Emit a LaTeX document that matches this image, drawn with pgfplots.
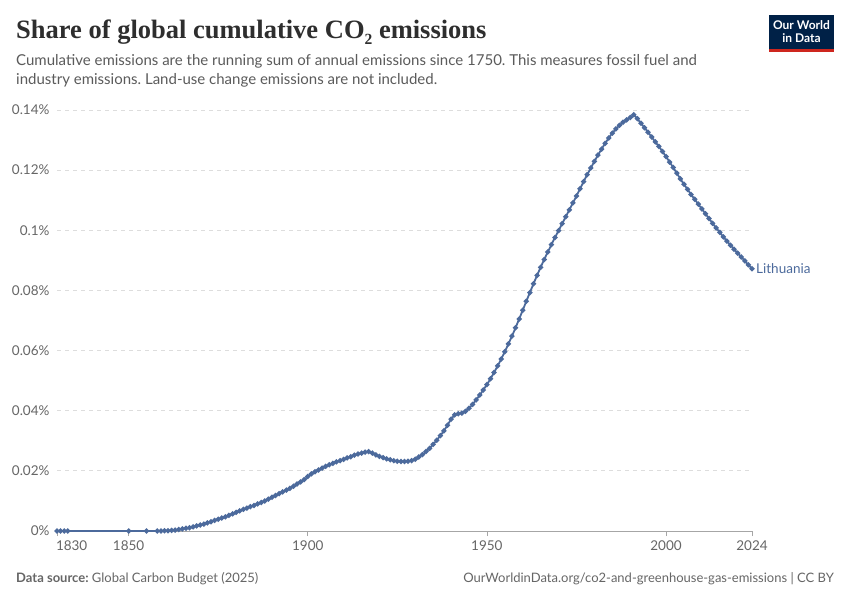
\documentclass[border=0pt]{standalone}
\usepackage{fontspec}
\setmainfont{Lato}
\newfontfamily\titlefont{Liberation Serif}
\usepackage{pgfplots}
\pgfplotsset{compat=1.18}
\frenchspacing
\definecolor{owid}{HTML}{4C6A9C}
\definecolor{txtgray}{HTML}{5B5B5B}
\definecolor{tickgray}{HTML}{666666}
\definecolor{gridgray}{HTML}{DDDDDD}
\definecolor{logoblue}{HTML}{002147}
\definecolor{logored}{HTML}{CE261E}
\pgfplotstableread{
year val
1830 0
1831 0
1832 0
1833 0
1850 0
1855 0
1858 0.0000
1859 0.0000
1860 0.0001
1861 0.0001
1862 0.0002
1863 0.0003
1864 0.0005
1865 0.0007
1866 0.0009
1867 0.0011
1868 0.0014
1869 0.0017
1870 0.0020
1871 0.0023
1872 0.0027
1873 0.0031
1874 0.0035
1875 0.0039
1876 0.0043
1877 0.0047
1878 0.0052
1879 0.0057
1880 0.0062
1881 0.0067
1882 0.0072
1883 0.0076
1884 0.0081
1885 0.0085
1886 0.0090
1887 0.0095
1888 0.0100
1889 0.0106
1890 0.0112
1891 0.0118
1892 0.0124
1893 0.0130
1894 0.0136
1895 0.0142
1896 0.0149
1897 0.0156
1898 0.0163
1899 0.0171
1900 0.0181
1901 0.0190
1902 0.0197
1903 0.0203
1904 0.0209
1905 0.0215
1906 0.0220
1907 0.0225
1908 0.0230
1909 0.0234
1910 0.0238
1911 0.0243
1912 0.0247
1913 0.0252
1914 0.0256
1915 0.0259
1916 0.0262
1917 0.0264
1918 0.0259
1919 0.0253
1920 0.0248
1921 0.0244
1922 0.0240
1923 0.0237
1924 0.0234
1925 0.0232
1926 0.0231
1927 0.0231
1928 0.0232
1929 0.0234
1930 0.0239
1931 0.0246
1932 0.0254
1933 0.0264
1934 0.0275
1935 0.0288
1936 0.0302
1937 0.0317
1938 0.0333
1939 0.0352
1940 0.0372
1941 0.0386
1942 0.0390
1943 0.0392
1944 0.0398
1945 0.0408
1946 0.0421
1947 0.0436
1948 0.0452
1949 0.0469
1950 0.0487
1951 0.0506
1952 0.0527
1953 0.0549
1954 0.0572
1955 0.0596
1956 0.0622
1957 0.0648
1958 0.0676
1959 0.0705
1960 0.0734
1961 0.0764
1962 0.0793
1963 0.0822
1964 0.0850
1965 0.0877
1966 0.0903
1967 0.0928
1968 0.0952
1969 0.0976
1970 0.0999
1971 0.1022
1972 0.1045
1973 0.1068
1974 0.1091
1975 0.1114
1976 0.1138
1977 0.1162
1978 0.1185
1979 0.1207
1980 0.1229
1981 0.1250
1982 0.1270
1983 0.1289
1984 0.1307
1985 0.1323
1986 0.1337
1987 0.1349
1988 0.1359
1989 0.1367
1990 0.1375
1991 0.1384
1992 0.1371
1993 0.1356
1994 0.1341
1995 0.1326
1996 0.1310
1997 0.1294
1998 0.1279
1999 0.1262
2000 0.1245
2001 0.1227
2002 0.1209
2003 0.1190
2004 0.1171
2005 0.1153
2006 0.1136
2007 0.1119
2008 0.1103
2009 0.1087
2010 0.1071
2011 0.1055
2012 0.1039
2013 0.1023
2014 0.1008
2015 0.0993
2016 0.0978
2017 0.0964
2018 0.0950
2019 0.0937
2020 0.0924
2021 0.0911
2022 0.0898
2023 0.0885
2024 0.0872
}\lithuania
\begin{document}
\begin{tikzpicture}[x=1pt,y=1pt]
\path[fill=white] (0,0) rectangle (850,600);
% title
\node[anchor=base west, inner sep=0pt, text=black!82, font=\titlefont\bfseries\fontsize{26.5}{26.5}\selectfont] at (16,561)
  {Share of global cumulative CO\raisebox{-0.2em}{\fontsize{15.5}{15.5}\selectfont 2} emissions};
\node[anchor=base west, inner sep=0pt, text=txtgray, font=\fontsize{15}{15}\selectfont] at (16,534)
  {Cumulative emissions are the running sum of annual emissions since 1750. This measures fossil fuel and};
\node[anchor=base west, inner sep=0pt, text=txtgray, font=\fontsize{15}{15}\selectfont] at (16,515)
  {industry emissions. Land-use change emissions are not included.};
% logo
\fill[logoblue] (769,548) rectangle (834,585);
\fill[logored] (769,548) rectangle (834,551);
\node[text=white, font=\bfseries\fontsize{12}{13}\selectfont, align=center, inner sep=0pt] at (801.5,568.5) {Our World\\in Data};
% footer
\node[anchor=base west, inner sep=0pt, text=tickgray, font=\fontsize{13}{13}\selectfont] at (16,18)
  {\textbf{Data source:} Global Carbon Budget (2025)};
\node[anchor=base east, inner sep=0pt, text=tickgray, font=\fontsize{13}{13}\selectfont] at (834,18)
  {OurWorldinData.org/co2-and-greenhouse-gas-emissions | CC BY};
\begin{axis}[
  at={(57pt,69pt)}, anchor=south west,
  scale only axis, width=695pt, height=421pt,
  xmin=1830, xmax=2024, ymin=0, ymax=0.14,
  clip=false,
  axis x line*=bottom, axis y line*=left,
  x axis line style={draw=black!35, line width=0.8pt, -},
  y axis line style={draw=none},
  xtick={1830,1850,1900,1950,2000,2024},
  xticklabels={\makebox[0pt][l]{\hspace*{-1pt}1830},1850,1900,1950,2000,2024},
  ytick={0,0.02,0.04,0.06,0.08,0.1,0.12,0.14},
  yticklabels={0\%,0.02\%,0.04\%,0.06\%,0.08\%,0.1\%,0.12\%,0.14\%},
  tick align=outside,
  major tick length=5pt,
  xtick style={draw=black!35, line width=0.8pt},
  ytick style={draw=none},
  ymajorgrids,
  grid style={gridgray, line width=0.8pt, dash pattern=on 4pt off 4pt},
  ticklabel style={font=\fontsize{13.5}{13.5}\selectfont, text=tickgray},
  xticklabel style={yshift=-1pt},
  yticklabel style={xshift=1pt},
]
\addplot[color=owid, line width=1.8pt, mark=*, mark size=1.6pt, mark options={solid}] table[x=year,y=val] {\lithuania};
\node[anchor=west, text=owid, font=\fontsize{13.5}{13.5}\selectfont, inner sep=0pt, xshift=4pt] at (axis cs:2024,0.0872) {Lithuania};
\end{axis}
\end{tikzpicture}
\end{document}
